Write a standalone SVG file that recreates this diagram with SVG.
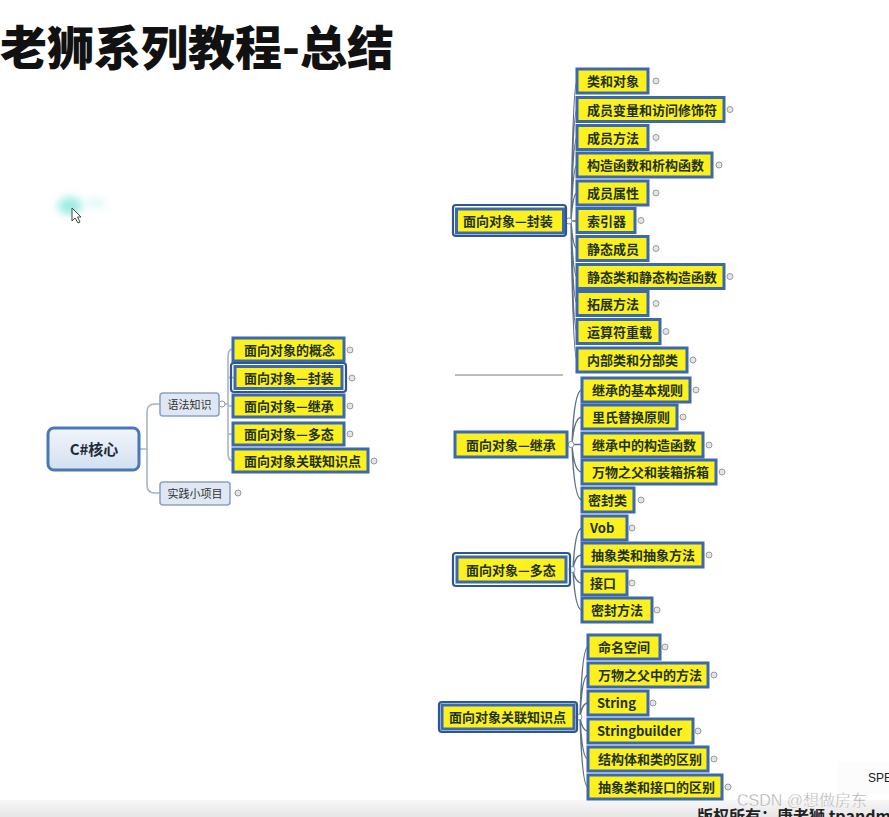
<svg xmlns="http://www.w3.org/2000/svg" width="889" height="817" viewBox="0 0 889 817">
<defs>
<style>
.t{font-family:"Noto Sans CJK SC","Noto Sans",sans-serif;font-weight:700;font-size:13px;fill:#1e3318}
.yl{fill:#fcf01e;stroke:#3a69ad;stroke-width:3}
.sel{fill:none;stroke:#2d5597;stroke-width:2.2}
.mk{fill:#e4e4e4;stroke:#9a9a9a;stroke-width:1}
.ci{fill:#fff;stroke:#8a96a6;stroke-width:1}
.cn{fill:none;stroke:#5f6f86;stroke-width:1.4}
.cl{fill:none;stroke:#a5b5c9;stroke-width:1.6}
.bl{fill:#dfe7f3;stroke:#8aa3c6;stroke-width:1.6}
.st{font-family:"Noto Sans CJK SC","Noto Sans",sans-serif;font-size:11px;fill:#333}
</style>
<linearGradient id="gc" x1="0" y1="0" x2="0" y2="1">
<stop offset="0" stop-color="#f1f5fb"/><stop offset="1" stop-color="#d3e0f1"/>
</linearGradient>
<linearGradient id="gb" x1="0" y1="0" x2="0" y2="1">
<stop offset="0" stop-color="#f7f7f7"/><stop offset="1" stop-color="#e6e6e6"/>
</linearGradient>
<filter id="blur" x="-50%" y="-50%" width="200%" height="200%"><feGaussianBlur stdDeviation="4"/></filter>
</defs>
<rect width="889" height="817" fill="#fff"/>
<rect x="0" y="800" width="889" height="17" fill="url(#gb)"/>
<rect x="838" y="762" width="51" height="32" fill="#fcfcfc"/>

<text x="0" y="65" font-family="'Noto Sans CJK SC',sans-serif" font-weight="900" font-size="47" fill="#111">老狮系列教程-总结</text>

<g id="cursor">
<ellipse cx="70" cy="206" rx="12" ry="9" fill="#6fe3d8" opacity="0.7" filter="url(#blur)"/>
<ellipse cx="96" cy="203" rx="10" ry="5" fill="#bdf2ee" opacity="0.5" filter="url(#blur)"/>
<path d="M72 208 L72 221 L75 218 L78 223 L80 222 L77.5 217 L81 217 Z" fill="#fff" stroke="#444" stroke-width="1"/>
</g>

<g id="connectors">
<path class="cl" d="M139 449 H147 M147 449 V412 Q147 404 155 404 H160 M147 449 V485 Q147 493 155 493 H160"/>
<path class="cl" d="M219 404 H228 M228 357 Q228 349 233 349 M228 357 V453 Q228 461 233 461 M228 377.5 H235 M228 406 H233 M228 434 H233"/>
<path class="cn" d="M566 221 H571 M571 221 Q573 81 577 81 M571 221 Q573 109.5 577 109.5 M571 221 Q573 137.5 577 137.5 M571 221 Q573 165 577 165 M571 221 Q573 193 577 193 M571 221 H577 M571 221 Q573 248.5 577 248.5 M571 221 Q573 276.5 577 276.5 M571 221 Q573 303.5 577 303.5 M571 221 Q573 331.5 577 331.5 M571 221 Q573 360 577 360"/>
<path class="cn" d="M567 444.5 H572 M572 444.5 Q574 390 582 390 M572 444.5 Q574 417 582 417 M572 444.5 H582 M572 444.5 Q574 472 582 472 M572 444.5 Q574 500 582 500"/>
<path class="cn" d="M570 569.5 H573 M573 569.5 Q575 528 582 528 M573 569.5 Q575 555 582 555 M573 569.5 Q575 583 582 583 M573 569.5 Q575 610 582 610"/>
<path class="cn" d="M576 717 H580 M580 717 Q582 647 588 647 M580 717 Q582 675 588 675 M580 717 Q582 703 588 703 M580 717 Q582 731 588 731 M580 717 Q582 759 588 759 M580 717 Q582 787 588 787"/>
<line x1="455" y1="375" x2="563" y2="375" stroke="#7a7a7a" stroke-width="1.2"/>
<circle class="ci" cx="222" cy="404" r="3"/>
<circle class="ci" cx="569" cy="221" r="3"/>
<circle class="ci" cx="571" cy="444.5" r="3"/>
<circle class="ci" cx="572" cy="569.5" r="3"/>
<circle class="ci" cx="579" cy="717" r="3"/>
</g>

<g id="n-core">
<rect x="48" y="428" width="91" height="42" rx="6" fill="url(#gc)" stroke="#4a78b5" stroke-width="3"/>
<text x="94" y="455" text-anchor="middle" font-family="'Noto Sans CJK SC',sans-serif" font-weight="700" font-size="15" fill="#1f2b3a">C#核心</text>
</g>
<g id="n-syntax">
<rect class="bl" x="160" y="393" width="59" height="23" rx="3"/>
<text class="st" x="189.5" y="408.5" text-anchor="middle">语法知识</text>
</g>
<g id="n-practice">
<rect class="bl" x="160" y="482" width="70" height="23" rx="3"/>
<text class="st" x="195" y="497.5" text-anchor="middle">实践小项目</text>
<circle class="mk" cx="238" cy="493" r="3"/>
</g>

<g id="l-concept"><rect class="yl" x="233" y="338" width="111" height="23"/><text class="t" x="244" y="354.5">面向对象的概念</text><circle class="mk" cx="350" cy="350" r="3"/></g>
<g id="l-encap"><rect class="sel" x="231" y="363" width="115" height="29" rx="3"/><rect class="yl" x="235" y="366.5" width="107" height="22"/><text class="t" x="244" y="382.5">面向对象—封装</text><circle class="mk" cx="352" cy="378" r="3"/></g>
<g id="l-inherit"><rect class="yl" x="233" y="395" width="111" height="22"/><text class="t" x="244" y="411">面向对象—继承</text><circle class="mk" cx="350" cy="406" r="3"/></g>
<g id="l-poly"><rect class="yl" x="233" y="423" width="111" height="22"/><text class="t" x="244" y="439">面向对象—多态</text><circle class="mk" cx="350" cy="434" r="3"/></g>
<g id="l-related"><rect class="yl" x="233" y="449" width="135" height="23"/><text class="t" x="244" y="465.5">面向对象关联知识点</text><circle class="mk" cx="374" cy="461" r="3"/></g>

<g id="r-encap"><rect class="sel" x="453" y="205" width="113" height="31" rx="3"/><rect class="yl" x="456.5" y="209" width="107" height="24"/><text class="t" x="463" y="226">面向对象—封装</text></g>
<g id="e1"><rect class="yl" x="577" y="69" width="71" height="24"/><text class="t" x="587" y="86">类和对象</text><circle class="mk" cx="656" cy="81" r="3"/></g>
<g id="e2"><rect class="yl" x="577" y="97.5" width="147" height="24"/><text class="t" x="587" y="114.5">成员变量和访问修饰符</text><circle class="mk" cx="730" cy="109.5" r="3"/></g>
<g id="e3"><rect class="yl" x="577" y="125.5" width="71" height="24"/><text class="t" x="587" y="142.5">成员方法</text><circle class="mk" cx="656" cy="137.5" r="3"/></g>
<g id="e4"><rect class="yl" x="577" y="153" width="135" height="24"/><text class="t" x="587" y="170">构造函数和析构函数</text><circle class="mk" cx="719" cy="165" r="3"/></g>
<g id="e5"><rect class="yl" x="577" y="181" width="71" height="24"/><text class="t" x="587" y="198">成员属性</text><circle class="mk" cx="656" cy="193" r="3"/></g>
<g id="e6"><rect class="yl" x="577" y="208.5" width="58" height="24"/><text class="t" x="587" y="225.5">索引器</text><circle class="mk" cx="641" cy="220.5" r="3"/></g>
<g id="e7"><rect class="yl" x="577" y="236.5" width="71" height="24"/><text class="t" x="587" y="253.5">静态成员</text><circle class="mk" cx="656" cy="248.5" r="3"/></g>
<g id="e8"><rect class="yl" x="577" y="264.5" width="147" height="24"/><text class="t" x="587" y="281.5">静态类和静态构造函数</text><circle class="mk" cx="730" cy="276.5" r="3"/></g>
<g id="e9"><rect class="yl" x="577" y="291.5" width="71" height="24"/><text class="t" x="587" y="308.5">拓展方法</text><circle class="mk" cx="656" cy="303.5" r="3"/></g>
<g id="e10"><rect class="yl" x="577" y="319.5" width="83" height="24"/><text class="t" x="587" y="336.5">运算符重载</text><circle class="mk" cx="666" cy="331.5" r="3"/></g>
<g id="e11"><rect class="yl" x="577" y="348" width="110" height="24"/><text class="t" x="587" y="365">内部类和分部类</text><circle class="mk" cx="693" cy="360" r="3"/></g>

<g id="r-inherit"><rect class="yl" x="455" y="432" width="112" height="25"/><text class="t" x="466" y="449.5">面向对象—继承</text></g>
<g id="i1"><rect class="yl" x="582" y="378" width="108" height="24"/><text class="t" x="592" y="395">继承的基本规则</text><circle class="mk" cx="696" cy="390" r="3"/></g>
<g id="i2"><rect class="yl" x="582" y="405" width="95" height="24"/><text class="t" x="592" y="422">里氏替换原则</text><circle class="mk" cx="683" cy="417" r="3"/></g>
<g id="i3"><rect class="yl" x="582" y="433" width="121" height="24"/><text class="t" x="592" y="450">继承中的构造函数</text><circle class="mk" cx="709" cy="445" r="3"/></g>
<g id="i4"><rect class="yl" x="582" y="460" width="134" height="24"/><text class="t" x="592" y="477">万物之父和装箱拆箱</text><circle class="mk" cx="722" cy="472" r="3"/></g>
<g id="i5"><rect class="yl" x="582" y="488" width="52" height="24"/><text class="t" x="588" y="505">密封类</text><circle class="mk" cx="641" cy="500" r="3"/></g>

<g id="r-poly"><rect class="sel" x="453" y="553" width="117" height="33" rx="3"/><rect class="yl" x="457" y="557" width="109" height="25"/><text class="t" x="466" y="574.5">面向对象—多态</text></g>
<g id="p1"><rect class="yl" x="582" y="516" width="45" height="24"/><text class="t" x="590" y="533">Vob</text><circle class="mk" cx="632" cy="528" r="3"/></g>
<g id="p2"><rect class="yl" x="582" y="543" width="121" height="24"/><text class="t" x="591" y="560">抽象类和抽象方法</text><circle class="mk" cx="709" cy="555" r="3"/></g>
<g id="p3"><rect class="yl" x="582" y="571" width="45" height="24"/><text class="t" x="590" y="588">接口</text><circle class="mk" cx="632" cy="583" r="3"/></g>
<g id="p4"><rect class="yl" x="582" y="598" width="70" height="24"/><text class="t" x="591" y="615">密封方法</text><circle class="mk" cx="657" cy="610" r="3"/></g>

<g id="r-related"><rect class="sel" x="439" y="702" width="138" height="30" rx="3"/><rect class="yl" x="442" y="705" width="132" height="24"/><text class="t" x="449" y="722">面向对象关联知识点</text></g>
<g id="k1"><rect class="yl" x="588" y="635" width="72" height="24"/><text class="t" x="598" y="652">命名空间</text><circle class="mk" cx="665" cy="647" r="3"/></g>
<g id="k2"><rect class="yl" x="588" y="663" width="120" height="24"/><text class="t" x="598" y="680">万物之父中的方法</text><circle class="mk" cx="714" cy="675" r="3"/></g>
<g id="k3"><rect class="yl" x="588" y="691" width="60" height="24"/><text class="t" x="597" y="708">String</text><circle class="mk" cx="653" cy="703" r="3"/></g>
<g id="k4"><rect class="yl" x="588" y="719" width="105" height="24"/><text class="t" x="597" y="736">Stringbuilder</text><circle class="mk" cx="698" cy="731" r="3"/></g>
<g id="k5"><rect class="yl" x="588" y="747" width="120" height="24"/><text class="t" x="598" y="764">结构体和类的区别</text><circle class="mk" cx="714" cy="759" r="3"/></g>
<g id="k6"><rect class="yl" x="588" y="775" width="134" height="24"/><text class="t" x="598" y="792">抽象类和接口的区别</text><circle class="mk" cx="728" cy="787" r="3"/></g>

<text x="868" y="782" font-family="'Liberation Sans',sans-serif" font-size="12" fill="#222">SPE</text>
<text x="697" y="822" font-family="'Noto Sans CJK SC',sans-serif" font-weight="700" font-size="16" fill="#222">版权所有：唐老狮 tpandm</text>
<text x="737" y="806" font-family="'Liberation Sans','Noto Sans CJK SC',sans-serif" font-size="16" fill="#a9a9a9" stroke="#fff" stroke-width="0.4">CSDN @想做房东</text>
</svg>
